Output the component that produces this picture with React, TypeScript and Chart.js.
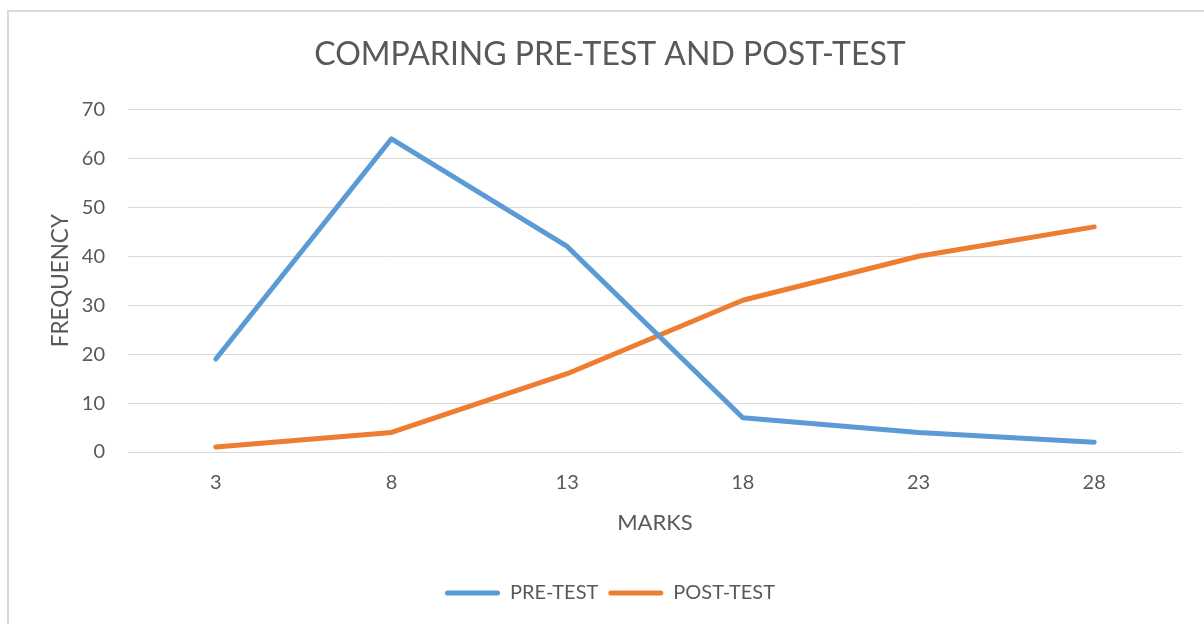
import React, { useEffect, useRef } from "react";
import { Chart, registerables } from "chart.js";

Chart.register(...registerables);

const marks = ["3", "8", "13", "18", "23", "28"];
const preTest = [19, 64, 42, 7, 4, 2];
const postTest = [1, 4, 16, 31, 40, 46];
const chartTitle = "COMPARING PRE-TEST AND POST-TEST";
const xTitle = "MARKS";
const yTitle = "FREQUENCY";

const FONT = "Lato, 'Open Sans', sans-serif";
const TEXT = "#595959";
const GRID = "#d9d9d9";

const borderPlugin = {
  id: "outerBorder",
  beforeDraw(chart: any) {
    const ctx = chart.ctx;
    ctx.save();
    ctx.strokeStyle = GRID;
    ctx.lineWidth = 2;
    ctx.beginPath();
    ctx.moveTo(8, 630);
    ctx.lineTo(8, 11);
    ctx.lineTo(1210, 11);
    ctx.stroke();
    ctx.restore();
  },
};

export default function App() {
  const ref = useRef<HTMLCanvasElement | null>(null);
  useEffect(() => {
    if (!ref.current) return;
    const chart = new Chart(ref.current, {
      type: "line",
      data: {
        labels: marks,
        datasets: [
          {
            label: "PRE-TEST",
            data: preTest,
            borderColor: "#5B9BD5",
            backgroundColor: "#5B9BD5",
            borderWidth: 5,
            pointRadius: 0,
            borderCapStyle: "round",
            borderJoinStyle: "round",
            tension: 0,
          },
          {
            label: "POST-TEST",
            data: postTest,
            borderColor: "#ED7D31",
            backgroundColor: "#ED7D31",
            borderWidth: 5,
            pointRadius: 0,
            borderCapStyle: "round",
            borderJoinStyle: "round",
            tension: 0,
          },
        ],
      },
      options: {
        responsive: false,
        animation: false,
        layout: { padding: { left: 16, right: 0, top: 20, bottom: 11 } },
        plugins: {
          title: {
            display: true,
            text: chartTitle,
            color: TEXT,
            font: { family: FONT, size: 32, weight: "normal" },
            padding: { top: 15, bottom: 36 },
          },
          legend: {
            position: "bottom",
            labels: {
              color: TEXT,
              font: { family: FONT, size: 20 },
              boxWidth: 55,
              boxHeight: 5,
              padding: 10,
              generateLabels(chart: any) {
                return chart.data.datasets.map((ds: any, i: number) => ({
                  text: ds.label,
                  fillStyle: ds.borderColor,
                  strokeStyle: ds.borderColor,
                  lineWidth: 0,
                  borderRadius: 2.5,
                  fontColor: TEXT,
                  datasetIndex: i,
                  hidden: false,
                }));
              },
            },
          },
          tooltip: { enabled: false },
        },
        scales: {
          x: {
            offset: true,
            grid: { display: false, drawTicks: false },
            border: { display: false },
            ticks: { color: TEXT, font: { family: FONT, size: 20 }, padding: 19 },
            title: {
              display: true,
              text: xTitle,
              color: TEXT,
              font: { family: FONT, size: 22 },
              padding: { top: 14, bottom: 37 },
            },
            afterFit(s: any) {
              s.height = 121;
            },
          },
          y: {
            min: 0,
            max: 70,
            ticks: { stepSize: 10, color: TEXT, font: { family: FONT, size: 20 }, padding: 23 },
            grid: { color: GRID, lineWidth: 1, drawTicks: false },
            border: { display: false },
            title: {
              display: true,
              text: yTitle,
              color: TEXT,
              font: { family: FONT, size: 22.5 },
              padding: { top: 31, bottom: 0 },
            },
            afterFit(s: any) {
              s.width = 112;
            },
          },
          yr: {
            position: "right",
            display: true,
            grid: { display: false },
            border: { display: false },
            ticks: { display: false },
            afterFit(s: any) {
              s.width = 22;
            },
          },
        },
      },
      plugins: [borderPlugin],
    } as any);
    return () => chart.destroy();
  }, []);
  return (
    <div style={{ position: "fixed", left: 0, top: 0, width: 1204, height: 624, background: "#fff" }}>
      <canvas ref={ref} width={1204} height={624} style={{ display: "block" }} />
    </div>
  );
}
